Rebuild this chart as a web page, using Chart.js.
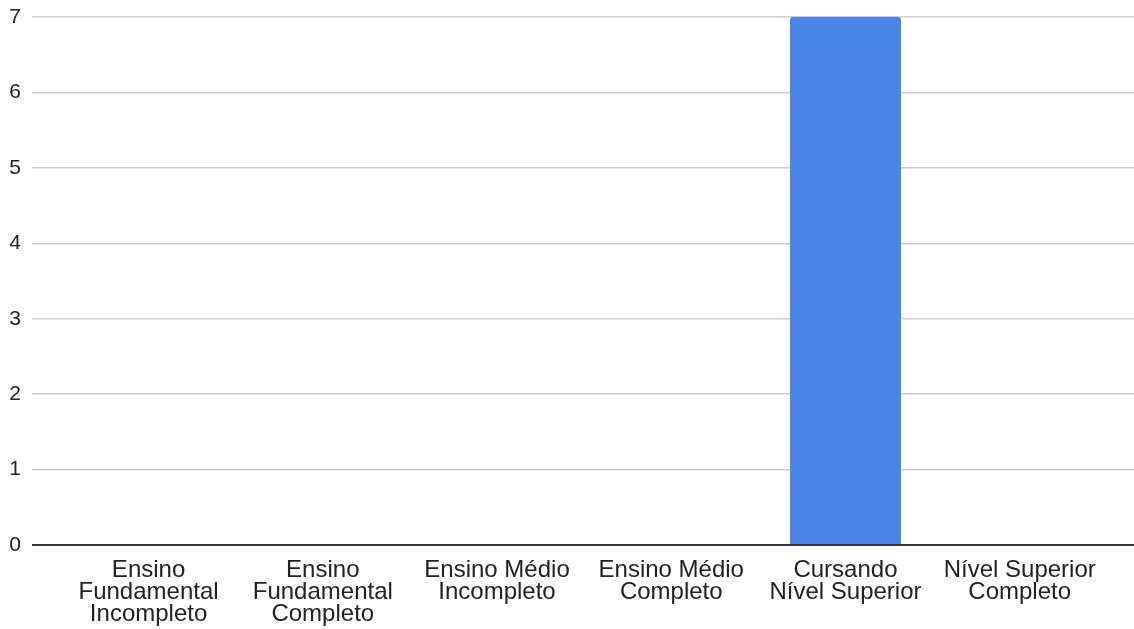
<!DOCTYPE html>
<html>
<head>
<meta charset="utf-8">
<script src="https://cdn.jsdelivr.net/npm/chart.js@4/dist/chart.umd.min.js"></script>
<style>
    html, body { margin: 0; padding: 0; background: #fff; }
    #wrap { width: 1134px; height: 629px; }
</style>
</head>
<body>
<div id="wrap"><canvas id="escolaridadeChart" width="1134" height="629"></canvas></div>
<script>
// Escolaridade: quantidade de pessoas por nível
const categories = [
    ['Ensino', 'Fundamental', 'Incompleto'],
    ['Ensino', 'Fundamental', 'Completo'],
    ['Ensino Médio', 'Incompleto'],
    ['Ensino Médio', 'Completo'],
    ['Cursando', 'Nível Superior'],
    ['Nível Superior', 'Completo']
];
const counts = [0, 0, 0, 0, 7, 0];
const yTicks = [0, 1, 2, 3, 4, 5, 6, 7];

const barColor = '#4a86e8';
const gridColor = '#cccccc';
const baseColor = '#333333';

document.addEventListener('DOMContentLoaded', () => {
    const canvas = document.getElementById('escolaridadeChart');
    const ctx = canvas.getContext('2d');

    new Chart(ctx, {
        type: 'bar',
        data: {
            datasets: [{
                data: counts.map((v, i) => ({ x: i, y: v })),
                backgroundColor: barColor,
                borderRadius: { topLeft: 3, topRight: 3, bottomLeft: 0, bottomRight: 0 },
                borderSkipped: 'bottom',
                categoryPercentage: 1,
                barPercentage: 0.637
            }]
        },
        options: {
            responsive: false,
            animation: false,
            layout: { padding: { top: 17, right: 0, left: 0, bottom: 0 } },
            plugins: {
                legend: { display: false },
                tooltip: { enabled: false }
            },
            scales: {
                x: {
                    type: 'linear',
                    offset: false,
                    bounds: 'data',
                    min: -0.669,
                    max: 5.656,
                    afterBuildTicks: (scale) => {
                        scale.ticks = categories.map((c, i) => ({ value: i }));
                    },
                    afterFit: (scale) => {
                        scale.height = 84;
                        scale.paddingLeft = 0;
                        scale.paddingRight = 0;
                    },
                    grid: { display: false, drawTicks: false },
                    border: { display: false },
                    ticks: {
                        autoSkip: false,
                        maxRotation: 0,
                        minRotation: 0,
                        padding: 14,
                        color: '#222',
                        font: { family: '"Liberation Sans", Arial, sans-serif', size: 24, lineHeight: 0.92 },
                        callback: (value) => categories[value]
                    }
                },
                y: {
                    min: 0,
                    max: 7,
                    afterBuildTicks: (scale) => {
                        scale.ticks = yTicks.map(v => ({ value: v }));
                    },
                    afterFit: (scale) => {
                        scale.width = 32;
                        scale.paddingTop = 0;
                        scale.paddingBottom = 0;
                    },
                    border: { display: false },
                    grid: {
                        drawTicks: false,
                        lineWidth: (c) => c.tick && c.tick.value === 0 ? 2 : 1.5,
                        color: (c) => c.tick && c.tick.value === 0 ? baseColor : gridColor
                    },
                    ticks: {
                        padding: 11,
                        color: '#222',
                        font: { family: '"Liberation Sans", Arial, sans-serif', size: 21 }
                    }
                }
            }
        }
    });
});
</script>
</body>
</html>
